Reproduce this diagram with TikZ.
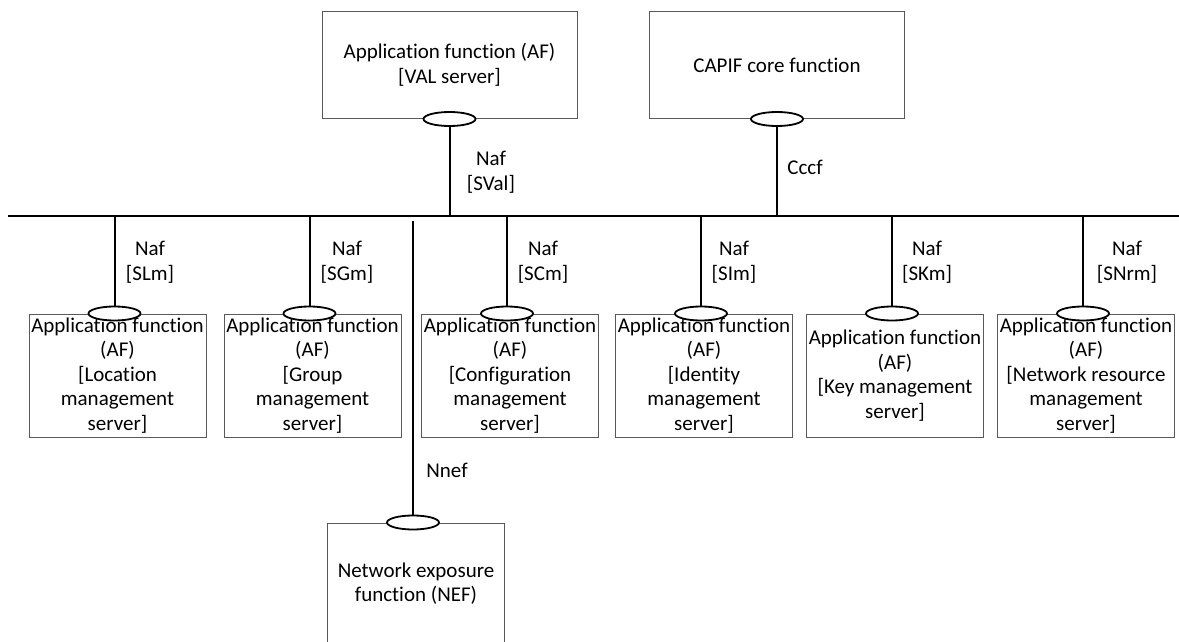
\documentclass[tikz,border=0pt]{standalone}
\usepackage{fontspec}
\setmainfont[Ligatures=NoCommon]{Carlito}
\usepackage{tikz}
\usetikzlibrary{positioning,shapes.geometric}
\definecolor{cborde}{HTML}{5A5A5A}
\tikzset{
  caja/.style={rectangle, draw=cborde, line width=0.5pt, minimum width=88.5pt,
    minimum height=61.5pt, align=center, inner sep=0pt, font=\fontsize{10.5}{12.25}\selectfont},
  cajasup/.style={caja, minimum width=127.5pt, minimum height=53.5pt},
  ranura/.style={ellipse, draw, line width=0.9pt, fill=white, minimum width=26pt,
    minimum height=7pt, inner sep=0pt},
  ranurab/.style={ranura, xshift=-1.5pt},
  linea/.style={line width=1pt},
  etq/.style={align=center, font=\fontsize{10.5}{12.5}\selectfont},
}

\begin{document}
\begin{tikzpicture}[x=0.5pt, y=-0.5pt]
  \clip (0,0) rectangle (1179,642);
  \node[cajasup] (val) at (449.5,65) {Application function (AF)\\{}[VAL server]};
  \node[cajasup] (capif) at (777,65) {CAPIF core function};
  \node[caja] (lm) at (117.5,375.5) {Application function\\(AF)\\{}[Location\\management\\server]};
  \node[caja] (gm) at (312.5,375.5) {Application function\\(AF)\\{}[Group\\management\\server]};
  \node[caja] (cm) at (510,375.5) {Application function\\(AF)\\{}[Configuration\\management\\server]};
  \node[caja] (im) at (704,375.5) {Application function\\(AF)\\{}[Identity\\management\\server]};
  \node[caja] (km) at (895,375.5) {Application function\\(AF)\\{}[Key management\\server]};
  \node[caja] (nrm) at (1086,375.5) {Application function\\(AF)\\{}[Network resource\\management\\server]};
  \node[caja, minimum height=60.5pt] (nef) at (416,583.5) {Network exposure\\function (NEF)};
  \node[ranura] (rval) at (val.south) {}; \node[ranura] (rcapif) at (capif.south) {};
  \node[ranurab] (rlm) at (lm.north) {}; \node[ranurab] (rgm) at (gm.north) {};
  \node[ranurab] (rcm) at (cm.north) {}; \node[ranurab] (rim) at (im.north) {};
  \node[ranurab] (rkm) at (km.north) {}; \node[ranurab] (rnrm) at (nrm.north) {};
  \node[ranurab] (rnef) at (nef.north) {};
  \coordinate (busi) at (8,216); \coordinate (busd) at (1179,216);
  \coordinate (nefi) at (413,221);
  \draw[linea] (busi) -- (busd);
  \draw[linea] (rval.south) -- (rval |- busi); \draw[linea] (rcapif.south) -- (rcapif |- busi);
  \draw[linea] (rlm.north) -- (rlm |- busi); \draw[linea] (rgm.north) -- (rgm |- busi);
  \draw[linea] (rcm.north) -- (rcm |- busi); \draw[linea] (rim.north) -- (rim |- busi);
  \draw[linea] (rkm.north) -- (rkm |- busi); \draw[linea] (rnrm.north) -- (rnrm |- busi);
  \draw[linea] (rnef.north) -- (rnef |- nefi);
  \node[etq] (lval) at (491,172) {Naf\\{}[SVal]};
  \node[etq] (lcapif) at (805,167) {Cccf};
  \node[etq] (llm) at (150,262) {Naf\\{}[SLm]};
  \node[etq] (lgm) at (347,262) {Naf\\{}[SGm]};
  \node[etq] (lcm) at (543,262) {Naf\\{}[SCm]};
  \node[etq] (lim) at (734,262) {Naf\\{}[SIm]};
  \node[etq] (lkm) at (927,262) {Naf\\{}[SKm]};
  \node[etq] (lnrm) at (1127,262) {Naf\\{}[SNrm]};
  \node[etq] (lnef) at (447,470) {Nnef};
\end{tikzpicture}
\end{document}
